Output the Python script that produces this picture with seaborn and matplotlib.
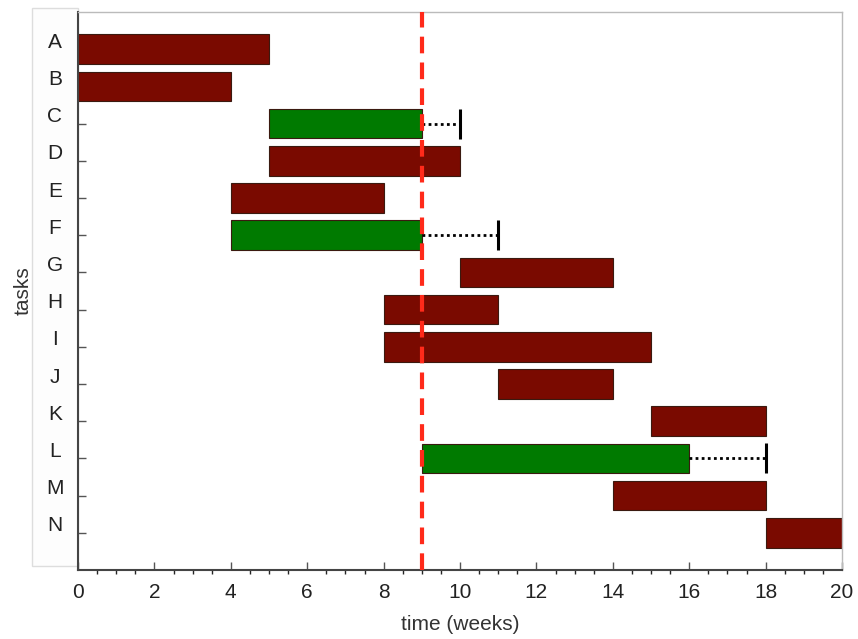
import numpy as np
import pandas as pd
import seaborn as sns
import matplotlib.pyplot as plt
import matplotlib.transforms as mtransforms
from matplotlib.patches import Rectangle

sns.set_style("ticks")
plt.rcParams['font.family'] = ['Liberation Sans', 'DejaVu Sans']

tasks = ["A", "B", "C", "D", "E", "F", "G", "H", "I", "J", "K", "L", "M", "N"]
start = [0, 0, 5, 5, 4, 4, 10, 8, 8, 11, 15, 9, 14, 18]
finish = [5, 4, 9, 10, 8, 9, 14, 11, 15, 14, 18, 16, 18, 20]
critical = [True, True, False, True, True, False, True, True, True, True, True, False, True, True]
slack_end = [None, None, 10, None, None, 11, None, None, None, None, None, 18, None, None]
today = 9

df = pd.DataFrame({"task": tasks, "start": start, "finish": finish,
                   "critical": critical, "slack_end": slack_end})
df["pos"] = np.arange(len(df))

fig = plt.figure(figsize=(8.58, 6.39), dpi=100)

# light box behind the task labels
fig.patches.append(Rectangle((32 / 858, 1 - 566 / 639), 46 / 858, 558 / 639,
                             transform=fig.transFigure, facecolor="#fdfdfd",
                             edgecolor="#dddddd", lw=1, zorder=-5))

ax = fig.add_axes([78 / 858, 1 - 570 / 639, (842 - 78) / 858, (570 - 12) / 639])
ax.patch.set_alpha(0)

red = "#7a0a00"
green = "#007a00"
colors = [red if c else green for c in df["critical"]]
ax.barh(df["pos"], df["finish"] - df["start"], left=df["start"], height=0.8,
        color=colors, edgecolor="#3a1a10", linewidth=0.8, zorder=2)

# slack for non-critical tasks
for _, r in df[df["slack_end"].notna()].iterrows():
    ax.plot([r["finish"], r["slack_end"]], [r["pos"], r["pos"]], color="black",
            linestyle=(0, (1, 1.2)), lw=2, zorder=3)
    ax.plot([r["slack_end"]], [r["pos"]], marker="|", markersize=22, mew=2.2,
            color="black", zorder=3)

ax.axvline(today, color="#ff2a1a", lw=3, linestyle=(0, (4, 2.2)), zorder=4)

ax.set_xlim(0, 20)
ax.set_ylim(14, -1)
ax.set_xticks(np.arange(0, 21, 2))
ax.set_xticks(np.arange(0, 20.5, 0.5), minor=True)
ax.set_yticks(df["pos"])
ax.set_yticklabels(df["task"])
ax.tick_params(axis="both", direction="in", colors="#555555", labelcolor="#222222",
               labelsize=15)
ax.tick_params(axis="x", which="major", length=6, width=1, pad=9)
ax.tick_params(axis="x", which="minor", length=3, width=1)
ax.tick_params(axis="y", length=6, width=1, pad=0)

offset = mtransforms.ScaledTranslation(-23 / 100, 9 / 100, fig.dpi_scale_trans)
for lab in ax.get_yticklabels():
    lab.set_horizontalalignment("center")
    lab.set_transform(lab.get_transform() + offset)

for side in ["left", "bottom"]:
    ax.spines[side].set_color("#444444")
    ax.spines[side].set_linewidth(1.5)
for side in ["top", "right"]:
    ax.spines[side].set_color("#bbbbbb")
    ax.spines[side].set_linewidth(1)

ax.set_xlabel("time (weeks)", fontsize=15, color="#333333", labelpad=10)
ax.set_ylabel("tasks", fontsize=15, color="#333333", labelpad=10)

fig.savefig("out.png", dpi=100)
